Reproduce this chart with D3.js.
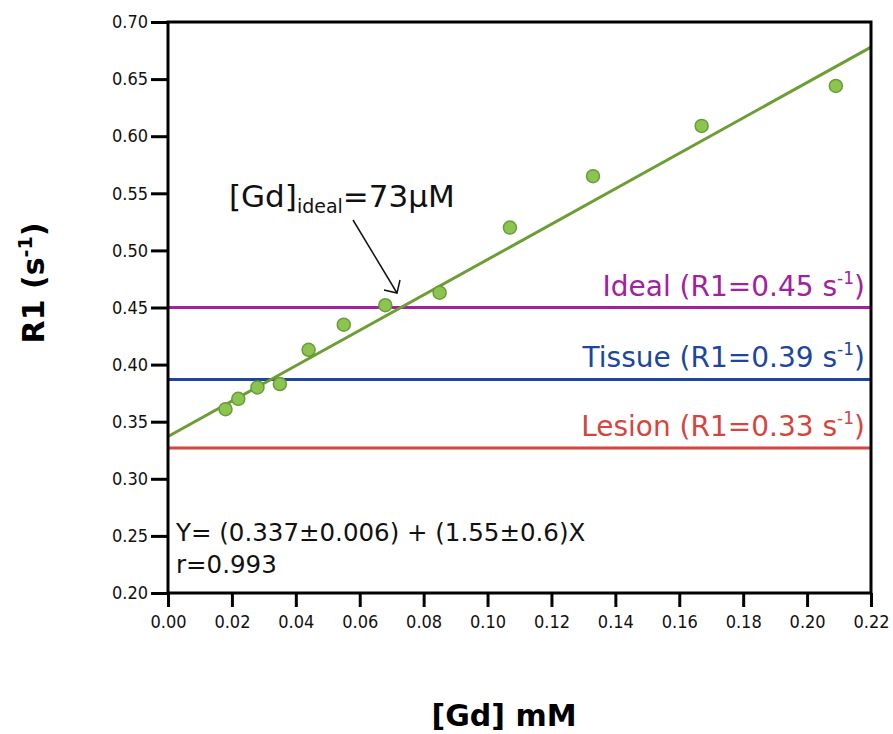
<!DOCTYPE html>
<html>
<head>
<meta charset="utf-8">
<script src="https://cdn.jsdelivr.net/npm/d3@7"></script>
<style>
  html, body { margin: 0; padding: 0; background: #fff; }
  svg { display: block; font-family: "DejaVu Sans", Verdana, sans-serif; }
  .tick text { font-family: "DejaVu Sans Condensed", "DejaVu Sans", sans-serif; font-stretch: condensed; font-size: 18px; fill: #111; }
</style>
</head>
<body>
<svg id="chart" width="893" height="734"></svg>
<script>
// Gd concentration (mM) and measured relaxation rate R1 (1/s)
const gdConc = [0.018, 0.022, 0.028, 0.035, 0.044, 0.055, 0.068, 0.085, 0.107, 0.133, 0.167, 0.209];
const r1Values = [0.361, 0.370, 0.380, 0.383, 0.413, 0.435, 0.452, 0.463, 0.520, 0.565, 0.609, 0.644];

// Linear fit Y = a + bX
const fitIntercept = 0.337;
const fitSlope = 1.55;

// Reference R1 levels
const levelNames = ["Ideal", "Tissue", "Lesion"];
const levelValues = [0.45, 0.387, 0.327];
const levelColors = ["#a0229f", "#1d479c", "#d5453f"];

// Axis ticks
const xTicks = [0, 0.02, 0.04, 0.06, 0.08, 0.10, 0.12, 0.14, 0.16, 0.18, 0.20, 0.22];
const yTicks = [0.20, 0.25, 0.30, 0.35, 0.40, 0.45, 0.50, 0.55, 0.60, 0.65, 0.70];

const svg = d3.select("#chart");
const plotLeft = 168, plotRight = 871, plotTop = 22, plotBottom = 593;

const x = d3.scaleLinear().domain([0, 0.22]).range([plotLeft, plotRight]);
const y = d3.scaleLinear().domain([0.20, 0.70]).range([plotBottom, plotTop]);

// Reference level lines
svg.append("g").selectAll("line")
  .data(levelValues)
  .join("line")
  .attr("x1", x(0)).attr("x2", x(0.22))
  .attr("y1", d => y(d)).attr("y2", d => y(d))
  .attr("stroke", (d, i) => levelColors[i])
  .attr("stroke-width", 3);

// Level labels
const fmt2 = d3.format(".2f");
const lvlLabels = svg.append("g").selectAll("text")
  .data(levelValues)
  .join("text")
  .attr("x", 865)
  .attr("y", d => y(d) - 12)
  .attr("text-anchor", "end")
  .attr("font-size", 28)
  .attr("fill", (d, i) => levelColors[i]);
lvlLabels.append("tspan").text((d, i) => `${levelNames[i]} (R1=${fmt2(d)} s`);
lvlLabels.append("tspan").attr("font-size", 17).attr("dy", -12).text("-1");
lvlLabels.append("tspan").attr("dy", 12).text(")");

// Fit line
svg.append("line")
  .attr("x1", x(0)).attr("y1", y(fitIntercept))
  .attr("x2", x(0.22)).attr("y2", y(fitIntercept + fitSlope * 0.22))
  .attr("stroke", "#6c9e34")
  .attr("stroke-width", 3);

// Data points
svg.append("g").selectAll("circle")
  .data(gdConc)
  .join("circle")
  .attr("cx", d => x(d))
  .attr("cy", (d, i) => y(r1Values[i]))
  .attr("r", 6.5)
  .attr("fill", "#8cc450")
  .attr("stroke", "#6a9c3a")
  .attr("stroke-width", 1.5);

// Axes
const yAxis = svg.append("g")
  .attr("transform", `translate(${plotLeft},0)`)
  .call(d3.axisLeft(y).tickValues(yTicks).tickFormat(fmt2).tickSize(17).tickSizeOuter(0).tickPadding(3));
const xAxis = svg.append("g")
  .attr("transform", `translate(0,${plotBottom})`)
  .call(d3.axisBottom(x).tickValues(xTicks).tickFormat(fmt2).tickSize(14).tickSizeOuter(0).tickPadding(8));
[yAxis, xAxis].forEach(g => {
  g.attr("font-size", null).attr("font-family", null);
  g.select(".domain").remove();
  g.selectAll(".tick line").attr("stroke", "#000").attr("stroke-width", 3);
});

// Plot frame
svg.append("rect")
  .attr("x", plotLeft).attr("y", plotTop)
  .attr("width", plotRight - plotLeft).attr("height", plotBottom - plotTop)
  .attr("fill", "none").attr("stroke", "#000").attr("stroke-width", 3);

// Axis titles
const yTitle = svg.append("text")
  .attr("transform", "translate(44,283) rotate(-90)")
  .attr("text-anchor", "middle")
  .attr("font-size", 30)
  .attr("font-weight", "bold")
  .attr("fill", "#000");
yTitle.append("tspan").text("R1 (s");
yTitle.append("tspan").attr("font-size", 19).attr("dy", -12).text("-1");
yTitle.append("tspan").attr("dy", 12).text(")");

svg.append("text")
  .attr("x", 504).attr("y", 726)
  .attr("text-anchor", "middle")
  .attr("font-size", 30)
  .attr("font-weight", "bold")
  .attr("fill", "#000")
  .text("[Gd] mM");

// Fit equation
svg.append("text")
  .attr("x", 176).attr("y", 541)
  .attr("font-size", 24.5)
  .attr("fill", "#111")
  .text(`Y= (${fitIntercept}±0.006) + (${fitSlope}±0.6)X`);
svg.append("text")
  .attr("x", 176).attr("y", 573)
  .attr("font-size", 24.5)
  .attr("fill", "#111")
  .text("r=0.993");

// Ideal concentration annotation with arrow
const ideal = svg.append("text")
  .attr("x", 229).attr("y", 207)
  .attr("font-size", 31)
  .attr("fill", "#111");
ideal.append("tspan").text("[Gd]");
ideal.append("tspan").attr("font-size", 19).attr("dy", 6).text("ideal");
ideal.append("tspan").attr("dy", -6).text("=73μM");

const ax0 = 353, ay0 = 220, ax1 = 397, ay1 = 293;
svg.append("line")
  .attr("x1", ax0).attr("y1", ay0).attr("x2", ax1).attr("y2", ay1)
  .attr("stroke", "#111").attr("stroke-width", 1.5);
svg.append("path")
  .attr("d", `M${ax1 - 13},${ay1 - 3} L${ax1},${ay1} L${ax1 + 3},${ay1 - 13}`)
  .attr("fill", "none").attr("stroke", "#111").attr("stroke-width", 1.5);
</script>
</body>
</html>
